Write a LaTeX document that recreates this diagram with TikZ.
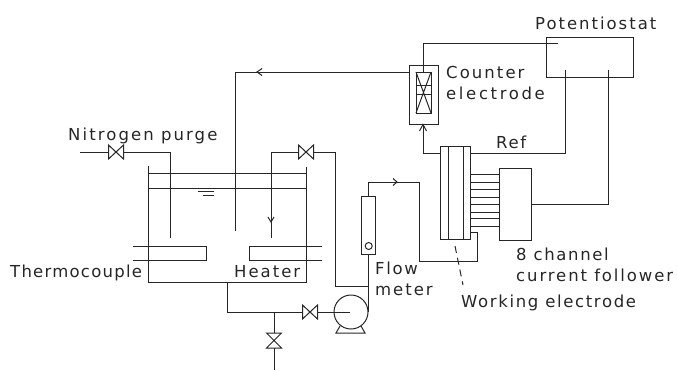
\documentclass[tikz,border=0pt]{standalone}
\usepackage{fontspec}
\setmainfont[LetterSpace=10]{DejaVu Sans}
\usetikzlibrary{arrows.meta}
\tikzset{
  x=1pt,y=-1pt,
  wire/.style={line width=1pt,black!85},
  box/.style={draw,line width=1pt,black!85,inner sep=0,outer sep=0,fill=none},
  lab/.style={anchor=base west,inner sep=0,font=\fontsize{16.5}{19}\selectfont,text=black!85},
  valve/.style={inner sep=0,outer sep=0,minimum width=15pt,minimum height=14pt},
  valvev/.style={inner sep=0,outer sep=0,minimum width=15pt,minimum height=15pt},
  tip/.style={line width=1pt,black!85}
}
\newcommand{\hvalve}[2]{\node[valve] (#1) at (#2) {};
  \draw[wire] (#1.north west)--(#1.south east)--(#1.north east)--(#1.south west)--cycle;}
\newcommand{\vvalve}[2]{\node[valvev] (#1) at (#2) {};
  \draw[wire] (#1.north west)--(#1.north east)--(#1.south west)--(#1.south east)--cycle;}
\newcommand{\lsp}[1]{\addfontfeature{LetterSpace=#1}}
\begin{document}
\begin{tikzpicture}
\useasboundingbox (0,0) rectangle (677,370);
% --- labels
\node[lab] (lNit) at (68,140) {\lsp{12.6}Nitrogen purge};
\node[lab] (lThe) at (10,277) {\lsp{7.5}Thermocouple};
\node[lab] (lHea) at (234,277) {\lsp{12}Heater};
\node[lab] (lPot) at (535,29) {\lsp{12}Potentiostat};
\node[lab] (lCou) at (446,78) {\lsp{12.5}Counter};
\node[lab] (lEle) at (446,99) {\lsp{16}electrode};
\node[lab] (lRef) at (496,148) {Ref};
\node[lab] (l8ch) at (516,260) {8 channel};
\node[lab] (lCur) at (516,281) {\lsp{11.5}current follower};
\node[lab] (lFlo) at (375,274) {Flow};
\node[lab] (lMet) at (375,295) {\lsp{12}meter};
\node[lab] (lWor) at (461,307) {Working electrode};
% --- vessel
\coordinate (cTL) at (148,166);
\coordinate (cTR) at (306.5,167);
\coordinate (cBL) at (148,282);
\coordinate (cBR) at (306.5,282);
\draw[wire] (cTL)--(cBL)--(cBR)--(cTR);
\draw[wire] (148,173.5)--(306.5,173.5);
\draw[wire] (148,188)--(306.5,188);
\draw[wire] (198,191)--(214,191);
\draw[wire] (203,195)--(214,195);
% heaters
\draw[wire] (133,246)--(206,246)--(206,260)--(133,260);
\draw[wire] (322,246)--(249,246)--(249,260)--(322,260);
% --- valves
\hvalve{vN}{116,152}
\hvalve{vR}{306,152}
\hvalve{vP}{310,312}
\vvalve{vD}{274,340.5}
% --- pump
\node[draw,circle,line width=1pt,black!85,minimum size=34pt,inner sep=0,outer sep=0] (pump) at (351,312) {};
\draw[wire] (340,326)--(336,333)--(365,333)--(361,326);
\coordinate (pumpC) at (350,312);
% --- flow meter
\node[box,minimum width=14pt,minimum height=58pt] (fm) at (368.7,225) {};
\node[draw,circle,line width=1pt,black!85,minimum size=7pt,inner sep=0] (fmb) at (368.7,246) {};
% --- counter electrode
\node[box,minimum width=29pt,minimum height=59pt] (ce) at (423.5,94.5) {};
\node[box,minimum width=15pt,minimum height=41pt] (ci) at (423.5,92.5) {};
\draw[wire] (ci.north west)--(ci.south east) (ci.north east)--(ci.south west);
\draw[wire] (416,85)--(431,85) (416,94)--(431,94);
% --- potentiostat
\node[box,minimum width=86.5pt,minimum height=40pt] (pot) at (589.75,57) {};
% --- working electrode
\node[box,minimum width=30pt,minimum height=93pt] (we) at (455.5,192.5) {};
\draw[wire] (448,146)--(448,239) (463,146)--(463,239);
% --- current follower
\node[box,minimum width=32.5pt,minimum height=72pt] (cf) at (515.25,204) {};
\foreach \yy in {174.5,182,189,197,204,212,218.5,226}
  \draw[wire] (we.east |- 0,\yy) -- (cf.west |- 0,\yy);
% --- wires
\coordinate (n0) at (80,152);
\coordinate (nEnd) at (170,238);
\draw[wire] (n0)--(vN.west);
\draw[wire] (vN.east)-|(nEnd);
\coordinate (rEnd) at (271,238);
\draw[wire] (vR.west)-|(rEnd);
\draw[tip] (268,217)--(271,222)--(274,217);
\coordinate (ret) at (235,231);
\draw[wire] (ce.west |- 0,72)-|(ret);
\draw[tip] (262,68.5)--(257,72)--(262,75.5);
\coordinate (rr) at (335,286);
\draw[wire] (vR.east)-|(rr)--(368.7,286);
\draw[wire] (fm.south)--(368.7,312);
\draw[wire] (pump.west)--(vP.east);
\draw[wire] (pump.west)--(pumpC);
\coordinate (dr) at (227,282);
\coordinate (jn) at (274,312);
\draw[wire] (dr)|-(vP.west);
\draw[wire] (jn)--(vD.north);
\coordinate (dEnd) at (274,370);
\draw[wire] (vD.south)--(dEnd);
\coordinate (f1) at (419,182);
\coordinate (f2) at (477,261);
\coordinate (f3) at (470.5,232);
\draw[wire] (fm.north)|-(f1)--(419,261)--(f2)--(f3 -| f2)--(f3);
\draw[tip] (393,178.5)--(397,182)--(393,185.5);
\coordinate (c1) at (423,72);
\coordinate (c2) at (558,43);
\draw[wire] (c1)|-(c2);
\draw[wire] (we.west |- 0,153)-|(ce.south -| c1);
\draw[tip] (419.5,131)--(423,124.5)--(426.5,131);
\coordinate (r1) at (565,70);
\draw[wire] (we.east |- 0,153)-|(r1);
\coordinate (r2) at (608,70);
\draw[wire] (cf.east |- 0,204)-|(r2);
\coordinate (d1) at (455,246);
\coordinate (d2) at (463,285);
\draw[wire,dash pattern=on 7pt off 5pt] (d1)--(d2);
\end{tikzpicture}
\end{document}
